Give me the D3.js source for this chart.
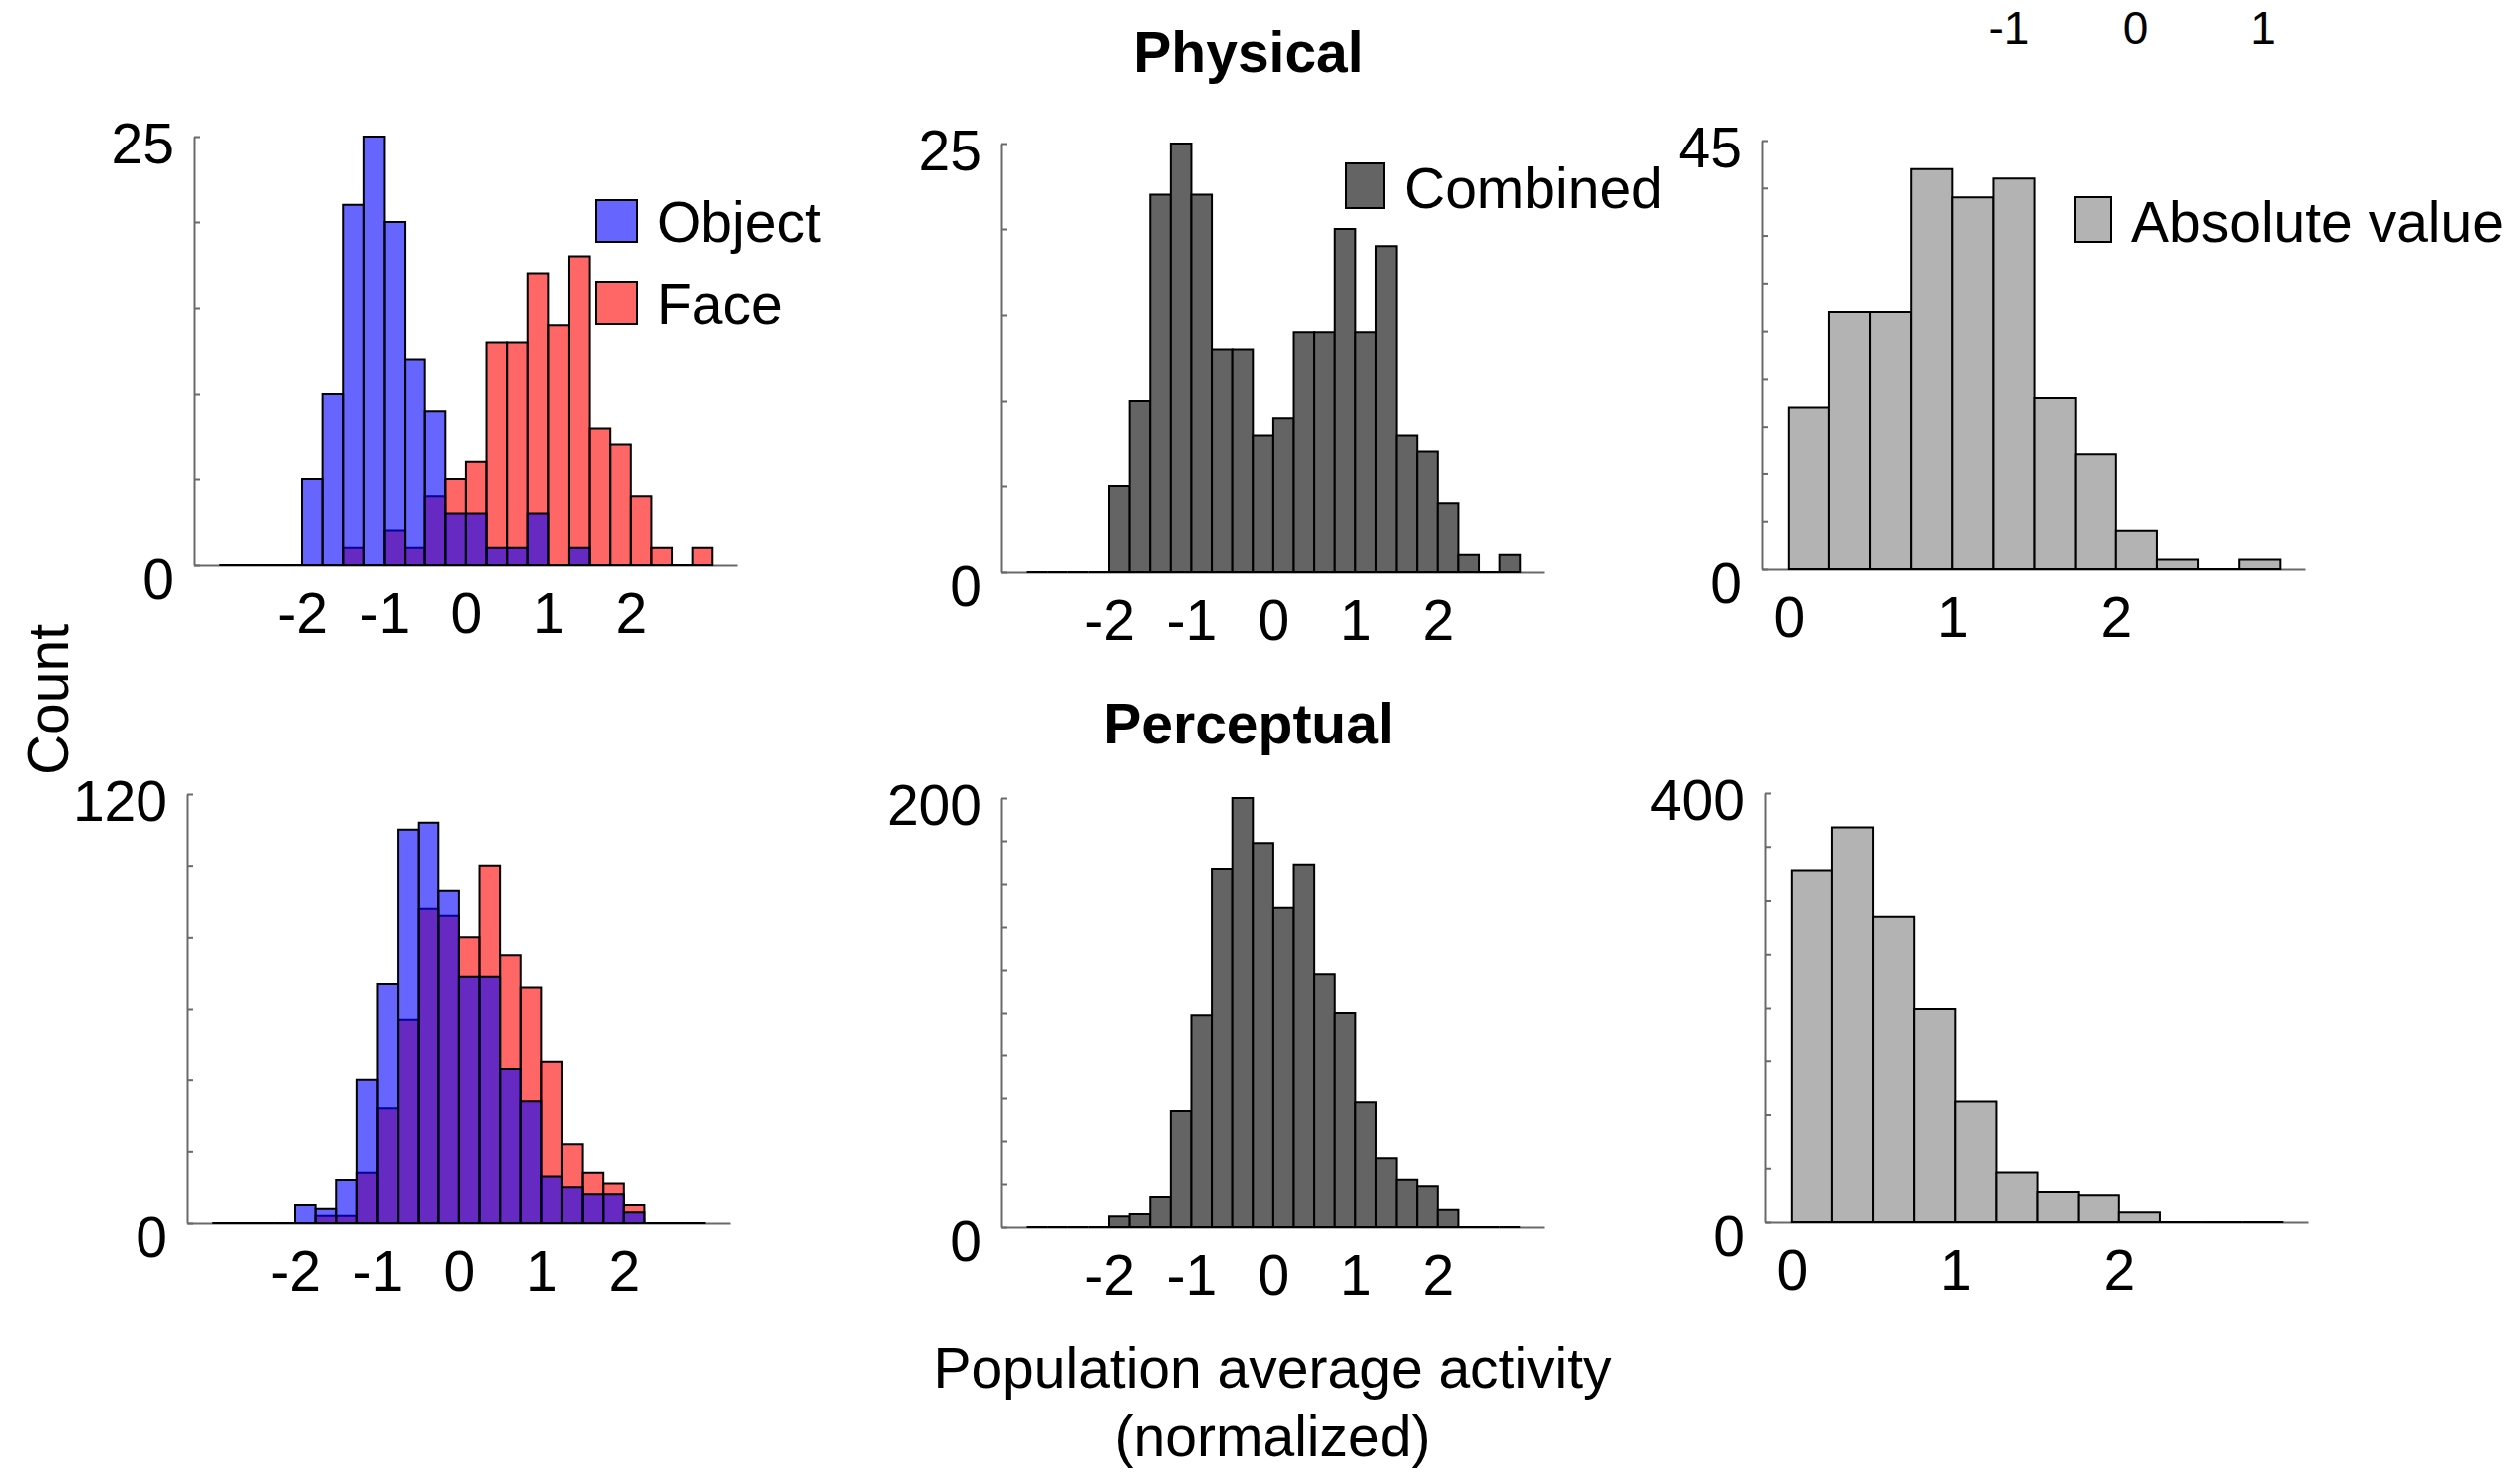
<!DOCTYPE html>
<html>
<head>
<meta charset="utf-8">
<script src="https://cdn.jsdelivr.net/npm/d3@7"></script>
<style>
  body { margin: 0; background: #fff; }
  svg { display: block; font-family: "Liberation Sans", Arial, Helvetica, sans-serif; }
</style>
</head>
<body>
<div id="figure"></div>
<script>
// lower edge of every histogram bin (bin width 0.25)
const signedBins = [-3, -2.75, -2.5, -2.25, -2, -1.75, -1.5, -1.25, -1, -0.75, -0.5, -0.25,
                    0, 0.25, 0.5, 0.75, 1, 1.25, 1.5, 1.75, 2, 2.25, 2.5, 2.75];
const absBins = [0, 0.25, 0.5, 0.75, 1, 1.25, 1.5, 1.75, 2, 2.25, 2.5, 2.75];
const binWidth = 0.25;

// Physical
const physicalObject   = [0, 0, 0, 0, 5, 10, 21, 25, 20, 12, 9, 3, 3, 1, 1, 3, 0, 1, 0, 0, 0, 0, 0, 0];
const physicalFace     = [0, 0, 0, 0, 0, 0, 1, 0, 2, 1, 4, 5, 6, 13, 13, 17, 14, 18, 8, 7, 4, 1, 0, 1];
const physicalCombined = [0, 0, 0, 0, 5, 10, 22, 25, 22, 13, 13, 8, 9, 14, 14, 20, 14, 19, 8, 7, 4, 1, 0, 1];
const physicalAbs      = [17, 27, 27, 42, 39, 41, 18, 12, 4, 1, 0, 1];

// Perceptual
const perceptualObject   = [0, 0, 0, 0, 5, 4, 12, 40, 67, 110, 112, 93, 69, 69, 43, 34, 13, 10, 8, 8, 3, 0, 0, 0];
const perceptualFace     = [0, 0, 0, 0, 0, 2, 2, 14, 32, 57, 88, 86, 80, 100, 75, 66, 45, 22, 14, 11, 5, 0, 0, 0];
const perceptualCombined = [0, 0, 0, 0, 5, 6, 14, 54, 99, 167, 200, 179, 149, 169, 118, 100, 58, 32, 22, 19, 8, 0, 0, 0];
const perceptualAbs      = [328, 368, 285, 199, 112, 46, 28, 25, 9, 0, 0, 0];

// axes
const signedTicks = [-2, -1, 0, 1, 2];
const absTicks = [0, 1, 2];
const partialTicks = [-1, 0, 1];   // labels of a cropped plot at the top edge
const yMaxPhysical = [25, 25, 45];
const yStepPhysical = [5, 5, 5];
const yMaxPerceptual = [120, 200, 400];
const yStepPerceptual = [20, 20, 50];

const width = 2529, height = 1477;
const fontSize = 57;
const blue = "#0000ff", red = "#ff0000";
const darkGray = "#646464", lightGray = "#b3b3b3";

const svg = d3.select("#figure").append("svg")
    .attr("width", width)
    .attr("height", height)
    .attr("viewBox", `0 0 ${width} ${height}`);

const signedDomain = [-3.31, 3.3];
const absDomain = [-0.163, 3.15];

const panels = [
    {left: 195, top: 137, bins: signedBins, xDomain: signedDomain, xTicks: signedTicks,
     yMax: yMaxPhysical[0], yStep: yStepPhysical[0],
     series: [{values: physicalFace, fill: red, alpha: 0.6}, {values: physicalObject, fill: blue, alpha: 0.6}],
     legend: [{label: "Object", fill: blue, alpha: 0.6, x: 598, y: 201, w: 41, h: 42},
              {label: "Face", fill: red, alpha: 0.6, x: 598, y: 283, w: 41, h: 42}]},
    {left: 1005, top: 144, bins: signedBins, xDomain: signedDomain, xTicks: signedTicks,
     yMax: yMaxPhysical[1], yStep: yStepPhysical[1],
     series: [{values: physicalCombined, fill: darkGray, alpha: 1}],
     legend: [{label: "Combined", fill: darkGray, alpha: 1, x: 1351, y: 164, w: 38, h: 45}]},
    {left: 1768, top: 141, bins: absBins, xDomain: absDomain, xTicks: absTicks,
     yMax: yMaxPhysical[2], yStep: yStepPhysical[2],
     series: [{values: physicalAbs, fill: lightGray, alpha: 1}],
     legend: [{label: "Absolute value", fill: lightGray, alpha: 1, x: 2082, y: 198, w: 37, h: 45}]},
    {left: 188, top: 797, bins: signedBins, xDomain: signedDomain, xTicks: signedTicks,
     yMax: yMaxPerceptual[0], yStep: yStepPerceptual[0],
     series: [{values: perceptualFace, fill: red, alpha: 0.6}, {values: perceptualObject, fill: blue, alpha: 0.6}],
     legend: []},
    {left: 1005, top: 801, bins: signedBins, xDomain: signedDomain, xTicks: signedTicks,
     yMax: yMaxPerceptual[1], yStep: yStepPerceptual[1],
     series: [{values: perceptualCombined, fill: darkGray, alpha: 1}],
     legend: []},
    {left: 1771, top: 796, bins: absBins, xDomain: absDomain, xTicks: absTicks,
     yMax: yMaxPerceptual[2], yStep: yStepPerceptual[2],
     series: [{values: perceptualAbs, fill: lightGray, alpha: 1}],
     legend: []}
];

const plotW = 545, plotH = 430;

function barPath(x0, x1, y0, y1) {
    return `M${x0},${y0}V${y1}H${x1}V${y0}Z`;
}

panels.forEach(p => {
    const g = svg.append("g").attr("transform", `translate(${p.left},${p.top})`);

    const x = d3.scaleLinear().domain(p.xDomain).range([0, plotW]);
    const y = d3.scaleLinear().domain([0, p.yMax]).range([plotH, 0]);

    // y axis: ticks pointing inwards, labels only at 0 and the max
    const yAxis = g.append("g")
        .attr("class", "axis")
        .call(d3.axisLeft(y)
            .tickValues(d3.range(0, p.yMax + 1, p.yStep))
            .tickSizeInner(-6)
            .tickSizeOuter(0)
            .tickPadding(20)
            .tickFormat(d => (d === 0 || d === p.yMax) ? String(d) : ""));
    yAxis.selectAll("text").attr("y", d => d === 0 ? 15 : 8);

    // x axis: no tick marks
    g.append("g")
        .attr("class", "axis")
        .attr("transform", `translate(0,${plotH})`)
        .call(d3.axisBottom(x)
            .tickValues(p.xTicks)
            .tickSize(0)
            .tickPadding(28)
            .tickFormat(d => String(d)));

    g.selectAll(".axis path, .axis line").attr("stroke", "#6a6a6a").attr("stroke-width", 2);
    g.selectAll(".axis text").attr("font-size", fontSize).attr("fill", "#000")
        .attr("font-family", "'Liberation Sans', Arial, sans-serif");

    // histogram bars
    p.series.forEach(s => {
        g.append("g")
            .selectAll("path")
            .data(s.values.map((v, i) => ({x0: p.bins[i], v: v})))
            .join("path")
                .attr("d", d => barPath(x(d.x0), x(d.x0 + binWidth), y(0), y(d.v)))
                .attr("fill", s.fill)
                .attr("fill-opacity", s.alpha)
                .attr("stroke", "#000")
                .attr("stroke-width", 2)
                .attr("stroke-linejoin", "miter");
    });
});

// legends (figure coordinates)
panels.forEach(p => {
    p.legend.forEach(item => {
        svg.append("rect")
            .attr("x", item.x).attr("y", item.y)
            .attr("width", item.w).attr("height", item.h)
            .attr("fill", item.fill).attr("fill-opacity", item.alpha)
            .attr("stroke", "#000").attr("stroke-width", 2);
        svg.append("text")
            .attr("x", item.x + item.w + 20)
            .attr("y", item.y + item.h)
            .attr("font-size", fontSize)
            .text(item.label);
    });
});

// row titles
svg.append("text")
    .attr("x", 1253).attr("y", 72)
    .attr("text-anchor", "middle")
    .attr("font-size", 57).attr("font-weight", "bold")
    .text("Physical");

svg.append("text")
    .attr("x", 1253).attr("y", 746)
    .attr("text-anchor", "middle")
    .attr("font-size", 57).attr("font-weight", "bold")
    .text("Perceptual");

// shared axis labels
svg.append("text")
    .attr("transform", "translate(68,702) rotate(-90)")
    .attr("text-anchor", "middle")
    .attr("font-size", fontSize)
    .text("Count");

svg.append("text")
    .attr("x", 1277).attr("y", 1393)
    .attr("text-anchor", "middle")
    .attr("font-size", fontSize)
    .text("Population average activity");

svg.append("text")
    .attr("x", 1277).attr("y", 1461)
    .attr("text-anchor", "middle")
    .attr("font-size", fontSize)
    .text("(normalized)");

// tick labels of the cropped plot at the top right
const xPartial = d3.scaleLinear().domain([-1, 1]).range([2016, 2271]);
svg.selectAll("text.partial")
    .data(partialTicks)
    .join("text")
        .attr("class", "partial")
        .attr("x", d => xPartial(d))
        .attr("y", 44)
        .attr("text-anchor", "middle")
        .attr("font-size", 46)
        .text(d => String(d));
</script>
</body>
</html>
